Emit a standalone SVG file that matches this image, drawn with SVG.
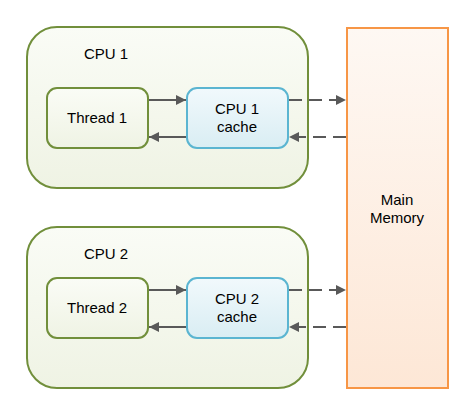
<svg xmlns="http://www.w3.org/2000/svg" width="463" height="414" viewBox="0 0 463 414">
<defs>
<linearGradient id="gGreen" x1="0" y1="0" x2="0" y2="1"><stop offset="0" stop-color="#fafcf6"/><stop offset="1" stop-color="#eff3e4"/></linearGradient>
<linearGradient id="gBlue" x1="0" y1="0" x2="0" y2="1"><stop offset="0" stop-color="#f1f9fc"/><stop offset="1" stop-color="#d9edf3"/></linearGradient>
<linearGradient id="gOrange" x1="0" y1="0" x2="0" y2="1"><stop offset="0" stop-color="#fef8f3"/><stop offset="1" stop-color="#fde7d6"/></linearGradient>
<marker id="ah" viewBox="0 0 10 10" refX="10" refY="5" markerWidth="10" markerHeight="10" markerUnits="userSpaceOnUse" orient="auto"><path d="M0,0 L10,5 L0,10 z" fill="#595959"/></marker>
</defs>
<style>
.cpu{fill:url(#gGreen);stroke:#718f3b;stroke-width:2}
.thr{fill:url(#gGreen);stroke:#718f3b;stroke-width:2}
.cache{fill:url(#gBlue);stroke:#5bb5d1;stroke-width:2}
.mem{fill:url(#gOrange);stroke:#f79646;stroke-width:2}
text{font-family:"Liberation Sans",Arial,sans-serif;font-size:15px;fill:#000;text-anchor:middle}
.solid{stroke:#595959;stroke-width:2;fill:none;marker-end:url(#ah)}
.dash{stroke:#595959;stroke-width:2;fill:none;stroke-dasharray:13 7;marker-end:url(#ah)}
</style>
<g id="memory"><rect class="mem" x="347" y="28" width="101" height="360"/><text x="397" y="205">Main</text><text x="397" y="223">Memory</text></g>
<g id="cpu1"><rect class="cpu" x="27" y="27" width="281" height="161" rx="30"/><text x="106" y="59">CPU 1</text></g>
<g id="thread1"><rect class="thr" x="47" y="88" width="101" height="60" rx="10"/><text x="97" y="123">Thread 1</text></g>
<g id="cache1"><rect class="cache" x="187" y="88" width="101" height="60" rx="10"/><text x="237" y="114">CPU 1</text><text x="237" y="132">cache</text></g>
<g id="cpu2"><rect class="cpu" x="27" y="227" width="281" height="161" rx="30"/><text x="106" y="259">CPU 2</text></g>
<g id="thread2"><rect class="thr" x="47" y="278" width="101" height="60" rx="10"/><text x="97" y="313">Thread 2</text></g>
<g id="cache2"><rect class="cache" x="187" y="278" width="101" height="60" rx="10"/><text x="237" y="304">CPU 2</text><text x="237" y="322">cache</text></g>
<g id="connectors">
<line class="solid" x1="149" y1="100" x2="186" y2="100"/>
<line class="solid" x1="186" y1="137" x2="149" y2="137"/>
<line class="dash" x1="289" y1="100" x2="346" y2="100"/>
<line class="dash" x1="346" y1="137" x2="289" y2="137"/>
<line class="solid" x1="149" y1="290" x2="186" y2="290"/>
<line class="solid" x1="186" y1="327" x2="149" y2="327"/>
<line class="dash" x1="289" y1="290" x2="346" y2="290"/>
<line class="dash" x1="346" y1="327" x2="289" y2="327"/>
</g>
</svg>
